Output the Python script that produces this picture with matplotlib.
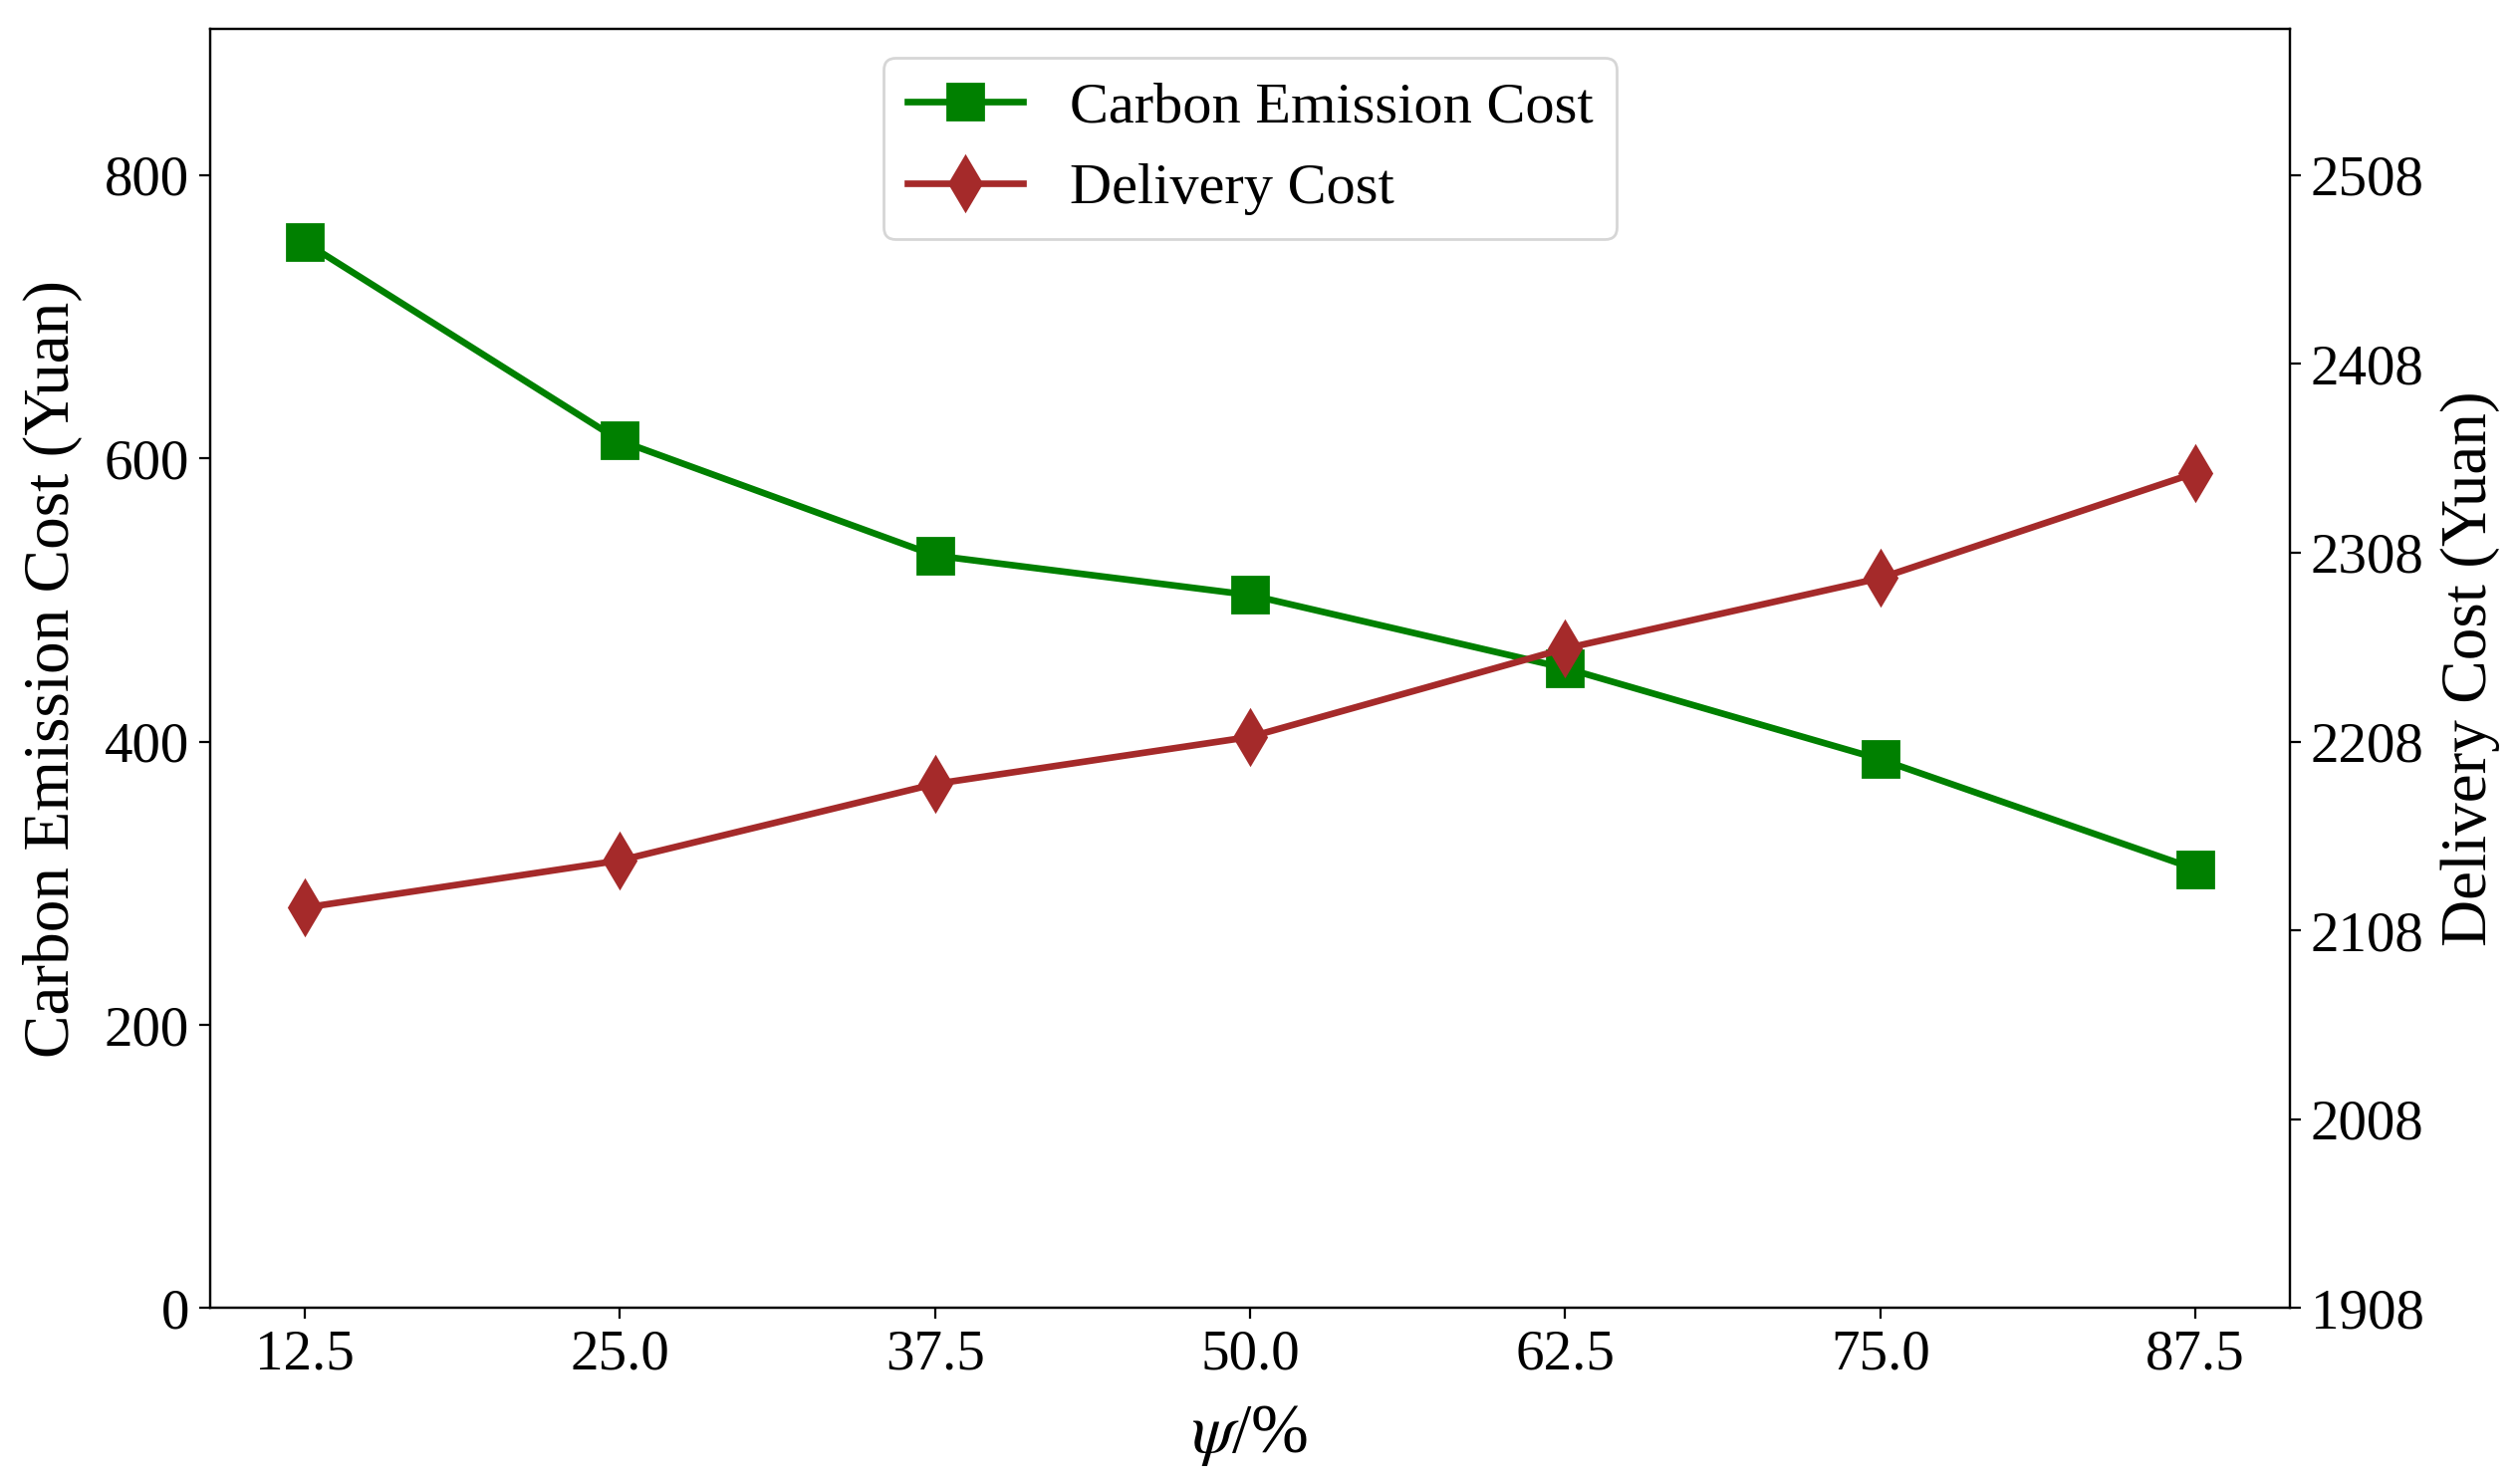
import numpy as np
import matplotlib
matplotlib.use('Agg')
import matplotlib.pyplot as plt

# values
psi = [12.5, 25.0, 37.5, 50.0, 62.5, 75.0, 87.5]
carbon_cost = [752.8, 612.6, 531.5, 503.6, 452.0, 387.6, 310.1]
delivery_cost = [2120.7, 2145.7, 2186.2, 2211.1, 2257.9, 2295.2, 2350.9]

plt.rcParams['font.family'] = ['Liberation Serif', 'DejaVu Serif']
plt.rcParams['mathtext.fontset'] = 'stix'

fig = plt.figure(figsize=(12.65, 7.44), dpi=200)
ax1 = fig.add_axes([0.0834, 0.1173, 0.8253, 0.8632])
ax2 = ax1.twinx()

line1, = ax1.plot(psi, carbon_cost, color='green', marker='s', markersize=13,
                  linewidth=2.4, label='Carbon Emission Cost')
line2, = ax2.plot(psi, delivery_cost, color='brown', marker='d', markersize=14,
                  linewidth=2.4, label='Delivery Cost')

ax1.set_ylim(0, max(carbon_cost) * 1.2)
d_lo, d_hi = min(delivery_cost) * 0.9, max(delivery_cost) * 1.1
ax2.set_ylim(d_lo, d_hi)
r_ticks = np.arange(d_lo, d_hi, 100)
ax2.set_yticks(r_ticks)
ax2.set_yticklabels([f'{int(t)}' for t in r_ticks])

ax1.set_xticks(psi)
ax1.set_xticklabels([f'{p:.1f}' for p in psi])

ax1.set_xlabel(r'$\psi$/%', fontsize=25, labelpad=8)
ax1.set_ylabel('Carbon Emission Cost (Yuan)', fontsize=23.5, labelpad=8)
ax2.set_ylabel('Delivery Cost (Yuan)', fontsize=23.5, labelpad=6)

for ax in (ax1, ax2):
    ax.tick_params(labelsize=20.5, length=4)

ax2.legend(handles=[line1, line2], loc='upper center', fontsize=21)

fig.savefig('out.png', dpi=200)
